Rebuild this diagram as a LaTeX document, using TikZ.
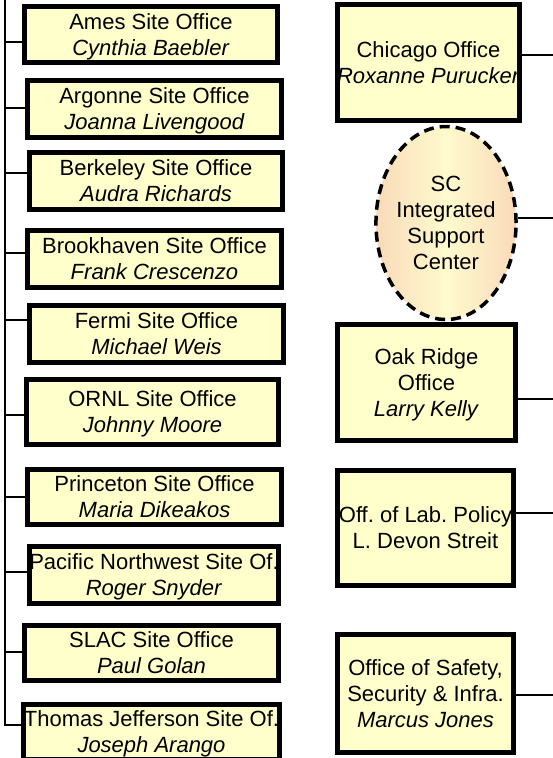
\documentclass[tikz,border=0pt]{standalone}
\usepackage{fontspec}
\setmainfont{Liberation Sans}
\usepackage{tikz}
\usetikzlibrary{shapes.geometric,positioning}
\definecolor{boxfill}{HTML}{FFFFCC}
\definecolor{peach}{HTML}{F9DBBA}
\definecolor{paleyellow}{HTML}{FFFACD}

\begin{document}
\begin{tikzpicture}[x=1pt, y=-1pt, inner sep=0pt,
    office/.style={rectangle, draw=black, line width=5pt, fill=boxfill, align=center,
      font=\fontsize{22}{26}\selectfont\frenchspacing, text depth=0pt},
    link/.style={draw=black, line width=2pt}]
        \useasboundingbox (0,0) rectangle (553,758);
        \clip (0,0) rectangle (553,758);
        % site offices
        \node[office, minimum width=253, minimum height=56] (ames) at (151,34.5) {Ames Site Office\\\textit{Cynthia Baebler}};
        \node[office, minimum width=254, minimum height=57] (argonne) at (154.5,109) {Argonne Site Office\\\textit{Joanna Livengood}};
        \node[office, minimum width=253, minimum height=57] (berkeley) at (156,181) {Berkeley Site Office\\\textit{Audra Richards}};
        \node[office, minimum width=254, minimum height=57] (brookhaven) at (154.5,259) {Brookhaven Site Office\\\textit{Frank Crescenzo}};
        \node[office, minimum width=254, minimum height=57] (fermi) at (156.5,334) {Fermi Site Office\\\textit{Michael Weis}};
        \node[office, minimum width=252, minimum height=65] (ornl) at (152.5,412) {ORNL Site Office\\\textit{Johnny Moore}};
        \node[office, minimum width=254, minimum height=55] (princeton) at (154.5,497) {Princeton Site Office\\\textit{Maria Dikeakos}};
        \node[office, minimum width=249, minimum height=57] (pnnl) at (154,575) {Pacific Northwest Site Of.\\\textit{Roger Snyder}};
        \node[office, minimum width=254, minimum height=55] (slac) at (151.5,653) {SLAC Site Office\\\textit{Paul Golan}};
        \node[office, minimum width=254, minimum height=55] (jlab) at (151.5,732) {Thomas Jefferson Site Of.\\\textit{Joseph Arango}};
        % trunk and branches
        \coordinate (trunktop) at (5,-2);
        \coordinate (trunkbot) at (5,725);
        \draw[link] (trunktop) -- (trunkbot);
        \foreach \n/\y in {ames/42, argonne/108, berkeley/173, brookhaven/253, fermi/320,
            ornl/415, princeton/497, pnnl/572, slac/652, jlab/725}
          \draw[link] (4,\y) -- (\n.west |- 0,\y);
        % field offices
        \node[office, minimum width=182, minimum height=116] (chicago) at (428.5,62.5) {Chicago Office\\\textit{Roxanne Purucker}};
        \node[ellipse, draw=black, line width=3.5pt, dash pattern=on 10pt off 6pt, shading=axis,
          left color=peach, right color=peach, middle color=paleyellow, align=center,
          minimum width=129, minimum height=193, font=\fontsize{22}{26}\selectfont] (isc) at (446,223) {SC\\Integrated\\Support\\Center};
        \node[office, minimum width=178, minimum height=116] (oakridge) at (426.5,382.5) {Oak Ridge\\Office\\\textit{Larry Kelly}};
        \node[office, minimum width=176, minimum height=115] (labpolicy) at (425.5,528) {Off. of Lab. Policy\\L. Devon Streit};
        \node[office, minimum width=176, minimum height=118] (safety) at (425.5,693.5) {Office of Safety,\\Security \& Infra.\\\textit{Marcus Jones}};
        % links to the right edge
        \foreach \n/\y in {chicago/55, isc/218, oakridge/399, labpolicy/513, safety/695} {
          \coordinate (\n-end) at (556,\y);
          \draw[link] (\n.east |- 0,\y) -- (\n-end);
        }
      \end{tikzpicture}
\end{document}
